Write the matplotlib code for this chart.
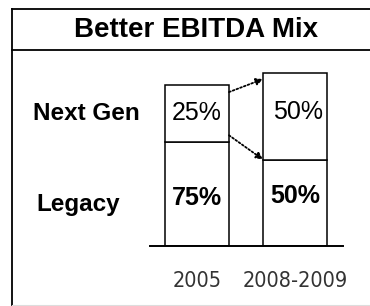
import matplotlib
matplotlib.use("Agg")
import matplotlib.pyplot as plt
from matplotlib.lines import Line2D

# data
periods = ["2005", "2008-2009"]
segments = ["Legacy", "Next Gen"]
legacy_height = [60, 50]      # drawn heights (schematic units)
nextgen_height = [33, 50]
legacy_share = ["75%", "50%"]
nextgen_share = ["25%", "50%"]

W, H = 370, 306
fig = plt.figure(figsize=(W / 100, H / 100), dpi=100)
fig.patch.set_facecolor("white")

def fx(px):
    return px / W

def fy(py):
    return 1 - py / H

# outer frame and title box
fig.add_artist(Line2D([fx(12), fx(12)], [fy(9), fy(305)], color="black", lw=1.3))
fig.add_artist(Line2D([fx(12), 1], [fy(9), fy(9)], color="black", lw=1.3))
fig.add_artist(Line2D([fx(12), 1], [fy(50), fy(50)], color="black", lw=1.3))
fig.add_artist(Line2D([fx(12), 1], [fy(305), fy(305)], color="#dddddd", lw=0.8))

fig.text(fx(196), fy(30), "Better EBITDA Mix", ha="center", va="center",
         fontsize=20, fontweight="bold", family=["Liberation Sans", "DejaVu Sans"])

# row labels
fig.text(fx(33), fy(113), segments[1], ha="left", va="center",
         fontsize=17.5, fontweight="bold", family=["Liberation Sans", "DejaVu Sans"])
fig.text(fx(36), fy(205), segments[0], ha="left", va="center",
         fontsize=17.5, fontweight="bold", family=["Liberation Sans", "DejaVu Sans"])

ax = fig.add_axes([fx(150), fy(246), (343 - 150) / W, (246 - 59.2) / H])
x = [0, 1]
w = 0.653
ax.bar(x, legacy_height, width=w, color="white", edgecolor="black", lw=1.1)
ax.bar(x, nextgen_height, width=w, bottom=legacy_height, color="white",
       edgecolor="black", lw=1.1)
ax.set_xlim(-0.48, 1.49)
ax.set_ylim(0, 108)
ax.axis("off")
ax.axhline(0, color="black", lw=1.4, clip_on=False)

low_frac = [0.46, 0.58]
up_frac = [0.51, 0.55]
for i in x:
    ax.text(i, legacy_height[i] * low_frac[i], legacy_share[i], ha="center", va="center",
            fontsize=18, fontweight="bold", family=["Liberation Sans", "DejaVu Sans"])
    ax.text(i + 0.03 * i, legacy_height[i] + nextgen_height[i] * up_frac[i], nextgen_share[i],
            ha="center", va="center", fontsize=18,
            family=["Liberation Sans", "DejaVu Sans"])
    ax.text(i, -20, periods[i], ha="center", va="center", fontsize=15.5,
            color="#333333", family=["DejaVu Sans"], fontstretch="condensed")

# dotted arrows
top0 = legacy_height[0] + nextgen_height[0]
ax.annotate("", xy=(1 - w / 2, 96.5), xytext=(w / 2, top0 - 4),
            arrowprops=dict(arrowstyle="-|>", linestyle=(0, (1, 1.2)), lw=1.3,
                            color="black", mutation_scale=10, shrinkA=0, shrinkB=0))
ax.annotate("", xy=(1 - w / 2, legacy_height[1]), xytext=(w / 2, legacy_height[0] + 4),
            arrowprops=dict(arrowstyle="-|>", linestyle=(0, (1, 1.2)), lw=1.3,
                            color="black", mutation_scale=10, shrinkA=0, shrinkB=0))

fig.savefig("out.png", dpi=100, facecolor="white")
